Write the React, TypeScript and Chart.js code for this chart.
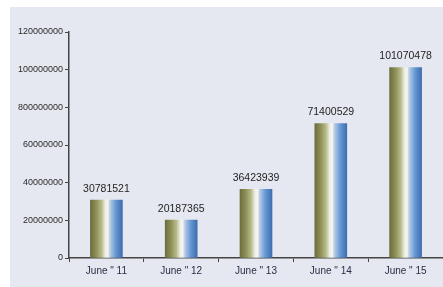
import React, { useEffect, useRef } from "react";
import { Chart, registerables } from "chart.js";

Chart.register(...registerables);

const categories = ['June " 11', 'June " 12', 'June " 13', 'June " 14', 'June " 15'];
const values = [30781521, 20187365, 36423939, 71400529, 101070478];
const yTickValues = [0, 20000000, 40000000, 60000000, 80000000, 100000000, 120000000];
const yTickLabels = ["0", "20000000", "40000000", "60000000", "800000000", "100000000", "120000000"];

const FONT = "'Liberation Sans', Arial, sans-serif";

export default function App() {
  const ref = useRef<HTMLCanvasElement | null>(null);

  useEffect(() => {
    document.body.style.margin = "0";
    const canvas = ref.current;
    if (!canvas) return;

    const valueLabels = {
      id: "valueLabels",
      afterDatasetsDraw(chart: any) {
        const ctx = chart.ctx;
        const meta = chart.getDatasetMeta(0);
        ctx.save();
        ctx.font = `10.5px ${FONT}`;
        ctx.fillStyle = "#1e1e1e";
        ctx.textAlign = "center";
        ctx.textBaseline = "bottom";
        meta.data.forEach((el: any, i: number) => {
          ctx.fillText(String(values[i]), el.x, el.y - 6);
        });
        ctx.restore();
      },
    };

    const makeGradient = (ctx: CanvasRenderingContext2D, cx: number, half: number) => {
      const g = ctx.createLinearGradient(cx - half, 0, cx + half, 0);
      g.addColorStop(0, "#6c6e3e");
      g.addColorStop(0.18, "#8e9058");
      g.addColorStop(0.35, "#b8ba8c");
      g.addColorStop(0.47, "#eef0e6");
      g.addColorStop(0.55, "#f4f6f2");
      g.addColorStop(0.59, "#cfd6de");
      g.addColorStop(0.64, "#a8c4e6");
      g.addColorStop(0.8, "#6496d2");
      g.addColorStop(1, "#3e6eae");
      return g;
    };

    const chart = new Chart(canvas, {
      type: "bar",
      data: {
        labels: categories,
        datasets: [
          {
            data: values,
            barThickness: 32,
            borderWidth: 0,
            backgroundColor: (c: any) => {
              const ch = c.chart;
              const xs = ch.scales && ch.scales.x;
              if (!xs || c.dataIndex === undefined) return "#8a8a55";
              const cx = xs.getPixelForValue(c.dataIndex);
              if (!isFinite(cx)) return "#8a8a55";
              return makeGradient(ch.ctx, cx, 16);
            },
          },
        ],
      },
      options: {
        animation: false,
        responsive: false,
        maintainAspectRatio: false,
        layout: { padding: { top: 25, left: 0, right: 0, bottom: 0 } },
        plugins: {
          legend: { display: false },
          tooltip: { enabled: false },
          title: { display: false },
        },
        scales: {
          x: {
            grid: {
              display: true,
              drawOnChartArea: false,
              drawTicks: true,
              tickLength: 4,
              color: "#444444",
              lineWidth: 1,
              offset: true,
            },
            border: { display: true, color: "#444444", width: 1.5 },
            ticks: {
              color: "#2a2c44",
              font: { family: FONT, size: 10 },
              padding: 3,
              maxRotation: 0,
              autoSkip: false,
            },
            afterFit: (s: any) => {
              s.height = 29;
            },
          },
          y: {
            min: 0,
            max: 120000000,
            afterBuildTicks: (s: any) => {
              s.ticks = yTickValues.map((v) => ({ value: v }));
            },
            grid: {
              display: true,
              drawOnChartArea: false,
              drawTicks: true,
              tickLength: 4,
              color: "#444444",
            },
            border: { display: true, color: "#444444", width: 1.5 },
            ticks: {
              color: "#2a2a2a",
              font: { family: FONT, size: 9 },
              padding: 2,
              callback: (v: any) => {
                const i = yTickValues.indexOf(Number(v));
                return i >= 0 ? yTickLabels[i] : "";
              },
            },
            afterFit: (s: any) => {
              s.width = 59;
            },
          },
        },
      },
      plugins: [valueLabels],
    });

    return () => chart.destroy();
  }, []);

  return (
    <div style={{ position: "relative", width: 443, height: 287, background: "#ffffff", overflow: "hidden" }}>
      <div
        style={{
          position: "absolute",
          left: 10,
          top: 7,
          width: 433,
          height: 280,
          background: "#e6e8f1",
        }}
      >
        <canvas ref={ref} width={433} height={280} style={{ display: "block" }} />
      </div>
    </div>
  );
}
